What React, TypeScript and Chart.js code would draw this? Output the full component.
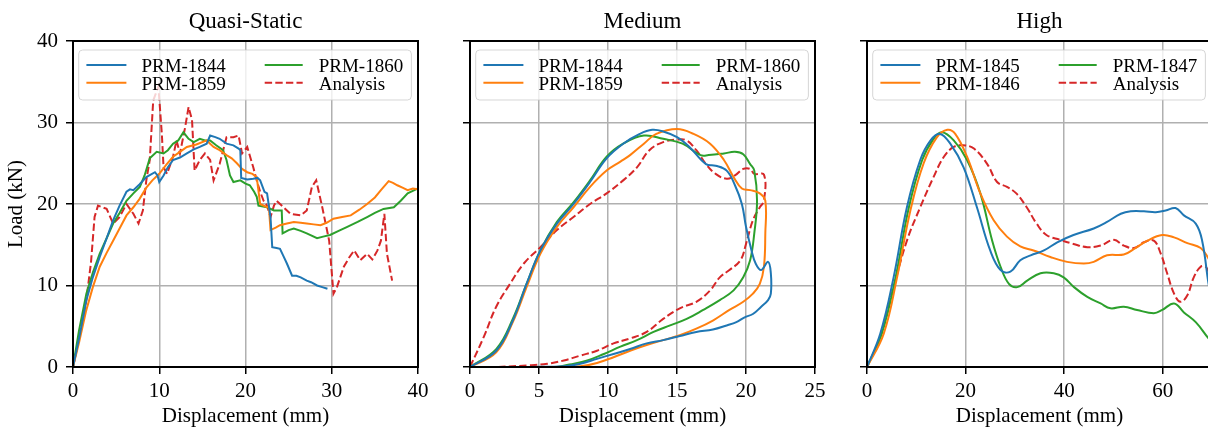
import React, { useEffect, useRef } from 'react';
import { Chart, registerables } from 'chart.js';

Chart.register(...registerables);

const FONT = '"Liberation Serif", "Times New Roman", "DejaVu Serif", serif';
const BLUE = '#1f77b4';
const ORANGE = '#ff7f0e';
const GREEN = '#2ca02c';
const RED = '#d62728';

// ---------- Panel titles / labels ----------
const panelTitles = ['Quasi-Static', 'Medium', 'High'];
const xAxisLabel = 'Displacement (mm)';
const yAxisLabel = 'Load (kN)';
const yTicks = [0, 10, 20, 30, 40];

// ---------- Quasi-Static ----------
const qsLabels = ['PRM-1844', 'PRM-1859', 'PRM-1860', 'Analysis'];
const qs1844X = [0, 0.8, 1.55, 2.3, 3.1, 3.9, 4.65, 5.4, 6.2, 6.6, 7, 7.7, 8.5, 9.5, 9.8, 10, 10.5, 11, 11.6, 12.4, 13.2, 14, 14.7, 15.5, 15.9, 16.5, 17, 17.8, 18.6, 19.2, 19.4, 19.5, 20.2, 20.9, 21.4, 21.7, 22.2, 22.5, 22.9, 23.1, 23.6, 24, 24.4, 24.8, 25.4, 25.9, 26.4, 27.1, 27.6, 28.3, 28.9, 29.5];
const qs1844Y = [0, 4, 8.2, 11, 13.5, 15.8, 18, 19.8, 21.5, 21.8, 21.7, 22.4, 23.3, 23.9, 23.5, 22.7, 23.5, 24.5, 25.4, 25.7, 26.2, 26.7, 27, 27.4, 28.4, 28.2, 28, 27.4, 27.2, 26.8, 26.6, 23.2, 23, 23.1, 23.2, 22.9, 21.5, 21.3, 18.4, 14.7, 14.6, 14.5, 13.6, 12.7, 11.2, 11.2, 11, 10.6, 10.4, 10, 9.8, 9.6];
const qs1859X = [0, 0.7, 1.5, 2.3, 3.1, 3.9, 4.65, 5.4, 6.2, 7, 7.7, 8.5, 9.2, 10, 10.8, 11.6, 12.4, 13.2, 14.3, 15.5, 15.9, 16.3, 17, 17.8, 18.4, 19, 19.6, 20.2, 20.8, 21.3, 21.7, 22.5, 22.7, 22.9, 23.5, 24, 24.8, 25.6, 26.4, 27.1, 27.9, 28.7, 29.4, 30.2, 31.2, 32.2, 33.2, 34.1, 35, 35.7, 36.6, 37.1, 37.6, 38.2, 38.8, 39.4, 40];
const qs1859Y = [0, 3, 6.8, 9.8, 12.3, 14, 15.5, 17, 18.6, 19.6, 20.6, 22, 22.9, 23.7, 24.8, 25.8, 26.4, 27, 27.3, 27.8, 27.4, 27, 26.6, 26, 25.6, 25, 24.3, 23.9, 23.7, 23.3, 20, 19.6, 19.8, 16.8, 17.1, 17.4, 17.6, 17.8, 17.7, 17.6, 17.5, 17.4, 17.7, 18.2, 18.4, 18.6, 19.3, 20, 20.8, 21.7, 22.8, 22.6, 22.3, 22, 21.7, 21.9, 21.8];
const qs1860X = [0, 0.7, 1.55, 2.3, 3.1, 3.9, 4.65, 5.4, 6.2, 7, 7.75, 8.3, 8.9, 9.7, 10.5, 11, 11.6, 12.2, 12.8, 13.4, 14, 14.7, 15.3, 15.9, 16.6, 17.4, 17.8, 18.2, 18.6, 19.4, 20, 20.5, 21, 21.3, 21.5, 22.5, 23.3, 24.2, 24.3, 25, 25.6, 26.4, 27.1, 28.3, 29, 29.8, 30.8, 31.8, 33, 34.1, 35, 36, 37.2, 38, 38.8, 39.4, 40];
const qs1860Y = [0, 4.5, 9, 11.6, 13.9, 15.8, 17.6, 18.9, 20.4, 21.3, 22.1, 23.5, 25.6, 26.4, 26.2, 26.6, 27.4, 27.8, 28.8, 28, 27.6, 28, 27.8, 27.8, 27.2, 26.6, 25.4, 23.5, 22.7, 22.9, 22.5, 22.3, 21.5, 20.9, 19.8, 19.6, 19.2, 19.2, 16.4, 16.8, 17, 16.7, 16.4, 15.8, 16, 16.2, 16.7, 17.2, 17.8, 18.4, 18.9, 19.4, 19.6, 20.4, 21.3, 21.6, 21.9];
const qsAnaX = [0, 0.8, 1.55, 2.1, 2.5, 2.9, 3.9, 4.65, 5.4, 6.2, 7, 7.6, 8.1, 8.5, 8.9, 9.3, 9.9, 10.3, 10.5, 10.9, 11.6, 12, 12.4, 13, 13.4, 13.8, 14.1, 14.7, 15.3, 15.9, 16.3, 17, 17.8, 18.6, 19.2, 19.6, 20.2, 20.9, 21.3, 21.7, 22.1, 22.5, 22.9, 23.3, 23.6, 24.4, 25.2, 26.4, 27.1, 27.7, 28.2, 28.9, 29.7, 30.2, 30.6, 31.4, 32, 32.6, 33.3, 34.1, 34.7, 35.3, 35.7, 36.1, 36.4, 37];
const qsAnaY = [0, 4, 8.2, 13, 18.4, 19.8, 19.4, 17.6, 18.4, 20, 18.8, 17.6, 19.2, 22.9, 25.4, 32.7, 34.4, 28.6, 24.5, 23.7, 25.8, 27.8, 26.2, 29.4, 31.9, 30.3, 24.1, 25.4, 26.2, 25.4, 22.9, 24.9, 28.2, 28.2, 28.4, 26.2, 27, 24.5, 22.9, 21.5, 20.4, 19.8, 18.4, 19.8, 20.4, 19.6, 18.8, 18.6, 19.2, 22.1, 22.9, 19.6, 15.5, 9, 9.8, 12.3, 13.4, 14.3, 13.1, 13.9, 13.2, 14.3, 15.5, 18.8, 13.9, 10.6];

// ---------- Medium ----------
const mdLabels = ['PRM-1844', 'PRM-1859', 'PRM-1860', 'Analysis'];
const md1844X = [0, 1.9, 3.1, 4.1, 5.1, 6.3, 7.5, 8.7, 9.9, 11.1, 12.3, 13.2, 14, 15, 15.9, 17.1, 17.8, 18.6, 19.2, 19.7, 20, 20.4, 20.7, 21.1, 21.6, 21.8, 21.8, 21.6, 21.1, 20.5, 19.9, 19.3, 18.6, 17.6, 16.4, 15.2, 14, 12.8, 11.6, 10.4, 9.2, 8, 6.8, 4.3];
const md1844Y = [0, 2, 5.7, 10.2, 14.3, 17.6, 20, 22.7, 25.6, 27.4, 28.6, 29.1, 28.9, 28.2, 27, 24.9, 24.7, 24.1, 22.3, 20, 17.2, 14.3, 12.7, 11.9, 12.9, 11.5, 9, 8.2, 7.4, 6.5, 6.1, 5.5, 5.1, 4.6, 4.3, 3.8, 3.3, 2.9, 2.2, 1.6, 1, 0.4, 0.1, 0];
const md1859X = [0, 1.9, 3.1, 4.1, 5.1, 6.3, 7.5, 8.7, 9.9, 10.9, 11.6, 12.6, 13.5, 15, 16.2, 17.4, 18.4, 19.1, 19.7, 20.3, 21, 21.4, 21.4, 21.3, 21, 20.5, 19.8, 18.8, 17.6, 16.4, 15.2, 14, 12.8, 11.6, 10.4, 9.2, 8, 6.3];
const md1859Y = [0, 1.8, 5.5, 9.8, 13.9, 17.2, 19.6, 22.1, 24.1, 25.2, 26, 27.4, 28.6, 29.2, 28.6, 27.4, 25.4, 23.3, 21.9, 21.7, 21.3, 20.4, 16.4, 12.3, 10.2, 9, 8, 7, 5.7, 4.7, 3.9, 3.3, 2.7, 2, 1.2, 0.5, 0.1, 0];
const md1860X = [0, 1.9, 3.1, 4.1, 5.1, 6.3, 7.5, 8.7, 9.9, 11.1, 12.6, 14, 15.4, 16.7, 17.3, 18.4, 19.2, 19.8, 20.3, 20.6, 20.8, 20.6, 20.3, 19.8, 19.1, 18.1, 16.9, 15.7, 14.5, 13.3, 12.1, 10.9, 9.7, 8.5, 7.2, 6.3];
const md1860Y = [0, 2.2, 5.9, 10.2, 14.3, 17.8, 20.2, 22.9, 25.8, 27.4, 28.4, 28, 27.4, 26, 26, 26.2, 26.4, 26.1, 24.9, 24.1, 20.4, 16.4, 13.1, 11, 9.4, 8.2, 7, 5.9, 5.1, 4.3, 3.3, 2.5, 1.6, 0.8, 0.3, 0];
const mdAnaX = [0, 1, 1.9, 2.9, 3.9, 5.1, 6.3, 7.5, 8.7, 9.9, 11.1, 12.1, 13, 14, 15, 15.7, 16.4, 17.1, 17.8, 18.6, 19.2, 19.8, 20.3, 20.6, 21.3, 21.3, 21, 20.5, 20, 19.6, 18.8, 18.1, 17.4, 16.4, 15.2, 14, 12.8, 11.6, 10.4, 9.2, 8, 6.8, 5.6, 4.3, 1.9];
const mdAnaY = [0, 3.7, 7.4, 10.2, 12.7, 14.7, 16.8, 18.4, 20, 21.3, 22.9, 24.5, 26.6, 27.6, 27.9, 27.8, 26.6, 24.9, 23.7, 23.1, 23.5, 24.3, 24.3, 23.7, 23.6, 20.4, 19.6, 18, 15.1, 13.1, 11.9, 11, 9.4, 8, 7.2, 5.9, 4.3, 3.5, 2.9, 2, 1.4, 0.8, 0.4, 0.2, 0];

// ---------- High ----------
const hiLabels = ['PRM-1845', 'PRM-1846', 'PRM-1847', 'Analysis'];
const hi1845X = [0, 2.7, 5.4, 8.1, 10.8, 12.9, 14.8, 16.9, 19.6, 22.3, 25, 27.1, 29.1, 31.1, 33.2, 35.9, 38.6, 41.9, 46, 48.7, 51.5, 53.5, 56.2, 58.6, 60.6, 62.6, 64.3, 66.7, 68, 69.3, 70];
const hi1845Y = [0, 4.1, 11, 19.6, 25.4, 27.8, 28.6, 27.4, 24.5, 19.6, 14.3, 11.9, 11.7, 13.1, 13.7, 14.3, 15.3, 16.2, 17, 17.8, 18.8, 19.1, 19.1, 19, 19.2, 19.5, 18.6, 17.6, 15.5, 10.2, 8];
const hi1846X = [0, 3.4, 6.1, 8.8, 11.5, 14.2, 16.3, 17.9, 20.3, 23, 25.7, 28.4, 31.1, 33.8, 37.2, 40.6, 44, 46, 48.7, 52.1, 54.2, 56.9, 59.9, 62.3, 65, 67.7, 69.3, 70];
const hi1846Y = [0, 4.1, 11, 19.2, 25, 28.2, 29.1, 28.6, 25.8, 21.3, 18, 16, 14.8, 14.3, 13.5, 12.9, 12.7, 12.9, 13.7, 13.8, 14.5, 15.5, 16.2, 15.9, 15.2, 14.6, 13.3, 12.5];
const hi1847X = [0, 3, 5.8, 8.5, 11.2, 13.5, 15.2, 17.6, 20.3, 23, 25.4, 27.1, 28.8, 30.5, 32.5, 35.2, 37.9, 39.9, 42, 44.7, 47.4, 49.4, 52.1, 54.8, 58.2, 59.9, 62.3, 64.3, 66.7, 69.3, 70];
const hi1847Y = [0, 4.1, 11, 19.6, 25.4, 28, 28.8, 27.8, 25.4, 21.3, 15.5, 12.3, 10.2, 9.8, 10.6, 11.5, 11.5, 11, 9.8, 8.6, 7.8, 7.2, 7.4, 7, 6.6, 7, 7.8, 6.7, 5.5, 3.5, 3];
const hiAnaX = [0, 2.7, 5.4, 8.1, 10.8, 13.5, 15.6, 17.6, 19.6, 21.7, 24.4, 26.4, 28.4, 30.3, 32.4, 34.4, 36.4, 39.2, 41.9, 44.7, 47.4, 50.1, 52.1, 54.2, 56.2, 58.2, 59.6, 60.9, 62.3, 63.6, 65, 66.3, 67.7, 68.7, 69.3, 70];
const hiAnaY = [0, 3.7, 9.8, 15.5, 19.6, 23.3, 25.8, 27, 27.2, 26.8, 24.9, 22.7, 22.1, 21.3, 19.6, 17.6, 16.2, 15.6, 15.1, 14.7, 14.9, 15.6, 14.9, 14.6, 15.3, 15.5, 13.9, 11.5, 9, 8, 8.8, 11, 12.3, 12.3, 11.7, 11];

// ---------- helpers ----------
type Series = { label: string; x: number[]; y: number[]; color: string; dashed: boolean };

const makeSeries = (labels: string[], xs: number[][], ys: number[][]): Series[] => {
  const colors = [BLUE, ORANGE, GREEN, RED];
  return labels.map((label, i) => ({ label, x: xs[i], y: ys[i], color: colors[i], dashed: i === 3 }));
};

const panels = [
  {
    title: panelTitles[0], canvasLeft: 0, canvasWidth: 445, chartLeft: 73, chartRight: 418,
    xMax: 40, xStep: 10, showY: true, tension: 0,
    series: makeSeries(qsLabels, [qs1844X, qs1859X, qs1860X, qsAnaX], [qs1844Y, qs1859Y, qs1860Y, qsAnaY]),
  },
  {
    title: panelTitles[1], canvasLeft: 430, canvasWidth: 420, chartLeft: 40, chartRight: 385,
    xMax: 25, xStep: 5, showY: false, tension: 0.4,
    series: makeSeries(mdLabels, [md1844X, md1859X, md1860X, mdAnaX], [md1844Y, md1859Y, md1860Y, mdAnaY]),
  },
  {
    title: panelTitles[2], canvasLeft: 850, canvasWidth: 370, chartLeft: 17, chartRight: 362,
    xMax: 70, xStep: 20, showY: false, tension: 0.4,
    series: makeSeries(hiLabels, [hi1845X, hi1846X, hi1847X, hiAnaX], [hi1845Y, hi1846Y, hi1847Y, hiAnaY]),
  },
];

const H = 432;
const CHART_TOP = 41;
const CHART_BOTTOM = 367;
const DASH = [7.4, 3.2];

function makeDecorPlugin(title: string, series: Series[]) {
  return {
    id: 'decor',
    afterDatasetsDraw(chart: any) {
      const ctx = chart.ctx as CanvasRenderingContext2D;
      const a = chart.chartArea;
      ctx.save();
      // spines
      ctx.strokeStyle = '#000';
      ctx.lineWidth = 2;
      ctx.setLineDash([]);
      ctx.strokeRect(a.left, a.top, a.right - a.left, a.bottom - a.top);

      // legend box
      const cl = a.left;
      const bx = cl + 5.7, bw = 338.4 - 5.7, by = 50, bh = 50, r = 4;
      ctx.beginPath();
      ctx.moveTo(bx + r, by);
      ctx.lineTo(bx + bw - r, by);
      ctx.quadraticCurveTo(bx + bw, by, bx + bw, by + r);
      ctx.lineTo(bx + bw, by + bh - r);
      ctx.quadraticCurveTo(bx + bw, by + bh, bx + bw - r, by + bh);
      ctx.lineTo(bx + r, by + bh);
      ctx.quadraticCurveTo(bx, by + bh, bx, by + bh - r);
      ctx.lineTo(bx, by + r);
      ctx.quadraticCurveTo(bx, by, bx + r, by);
      ctx.closePath();
      ctx.fillStyle = 'rgba(255,255,255,0.8)';
      ctx.fill();
      ctx.strokeStyle = 'rgba(204,204,204,0.8)';
      ctx.lineWidth = 1;
      ctx.stroke();

      const cols = [
        { l0: 13.4, l1: 53.4, t: 68.4 },
        { l0: 191.7, l1: 229.7, t: 245.7 },
      ];
      const rowsY = [65, 82.7];
      ctx.font = `19px ${FONT}`;
      ctx.textBaseline = 'alphabetic';
      ctx.textAlign = 'left';
      series.forEach((s, i) => {
        const c = cols[Math.floor(i / 2)];
        const y = rowsY[i % 2];
        ctx.beginPath();
        ctx.strokeStyle = s.color;
        ctx.lineWidth = 2;
        ctx.setLineDash(s.dashed ? DASH : []);
        ctx.moveTo(cl + c.l0, y);
        ctx.lineTo(cl + c.l1, y);
        ctx.stroke();
        ctx.setLineDash([]);
        ctx.fillStyle = '#000';
        ctx.fillText(s.label, cl + c.t, y + 6.8);
      });

      // title
      ctx.font = `23px ${FONT}`;
      ctx.textAlign = 'center';
      ctx.fillStyle = '#000';
      ctx.fillText(title, (a.left + a.right) / 2, 28);
      ctx.restore();
    },
  };
}

function Panel(props: (typeof panels)[number]) {
  const ref = useRef<HTMLCanvasElement>(null);
  useEffect(() => {
    const canvas = ref.current!;
    const { series, xMax, xStep, showY, tension, chartLeft, chartRight, canvasWidth, title } = props;
    const chart = new Chart(canvas, {
      type: 'line',
      data: {
        datasets: series.map((s) => ({
          label: s.label,
          data: s.x.map((x, i) => ({ x, y: s.y[i] })),
          borderColor: s.color,
          backgroundColor: s.color,
          borderWidth: 2,
          borderDash: s.dashed ? DASH : [],
          pointRadius: 0,
          pointHoverRadius: 0,
          tension,
          fill: false,
        })),
      },
      options: {
        animation: false,
        responsive: false,
        events: [],
        layout: { padding: { top: CHART_TOP, right: canvasWidth - chartRight, left: 0, bottom: 0 } },
        plugins: { legend: { display: false }, tooltip: { enabled: false }, title: { display: false } },
        scales: {
          x: {
            type: 'linear',
            min: 0,
            max: xMax,
            afterBuildTicks: (s: any) => {
              s.ticks = s.ticks.filter((t: any) => Math.abs(t.value / xStep - Math.round(t.value / xStep)) < 1e-6);
            },
            afterFit: (s: any) => { s.height = H - CHART_BOTTOM; },
            ticks: { stepSize: xStep, color: '#000', font: { family: FONT, size: 21 }, padding: 5, maxRotation: 0, autoSkip: false },
            grid: { color: '#b0b0b0', lineWidth: 1.5, tickColor: '#000', tickLength: 7, tickWidth: 1.5 },
            border: { display: true, color: '#000', width: 2 },
            title: { display: true, text: xAxisLabel, color: '#000', font: { family: FONT, size: 21 }, padding: { top: 0, bottom: 3 } },
          },
          y: {
            type: 'linear',
            min: yTicks[0],
            max: yTicks[yTicks.length - 1],
            afterFit: (s: any) => { s.width = chartLeft; },
            ticks: {
              stepSize: 10,
              color: '#000',
              font: { family: FONT, size: 21 },
              padding: 8,
              callback: (v: any) => (showY ? String(v) : ''),
            },
            grid: { color: '#b0b0b0', lineWidth: 1.5, tickColor: '#000', tickLength: 7, tickWidth: 1.5 },
            border: { display: true, color: '#000', width: 2 },
            title: { display: showY, text: yAxisLabel, color: '#000', font: { family: FONT, size: 21 }, padding: { top: 4, bottom: 0 } },
          },
        },
      },
      plugins: [makeDecorPlugin(title, series)],
    } as any);
    return () => chart.destroy();
  }, []);
  return (
    <canvas
      ref={ref}
      width={props.canvasWidth}
      height={H}
      style={{ position: 'absolute', left: props.canvasLeft, top: 0, width: props.canvasWidth, height: H }}
    />
  );
}

export default function App() {
  return (
    <div style={{ position: 'absolute', left: 0, top: 0, width: 1208, height: H, overflow: 'hidden', background: '#fff' }}>
      {panels.map((p) => (
        <Panel key={p.title} {...p} />
      ))}
    </div>
  );
}
